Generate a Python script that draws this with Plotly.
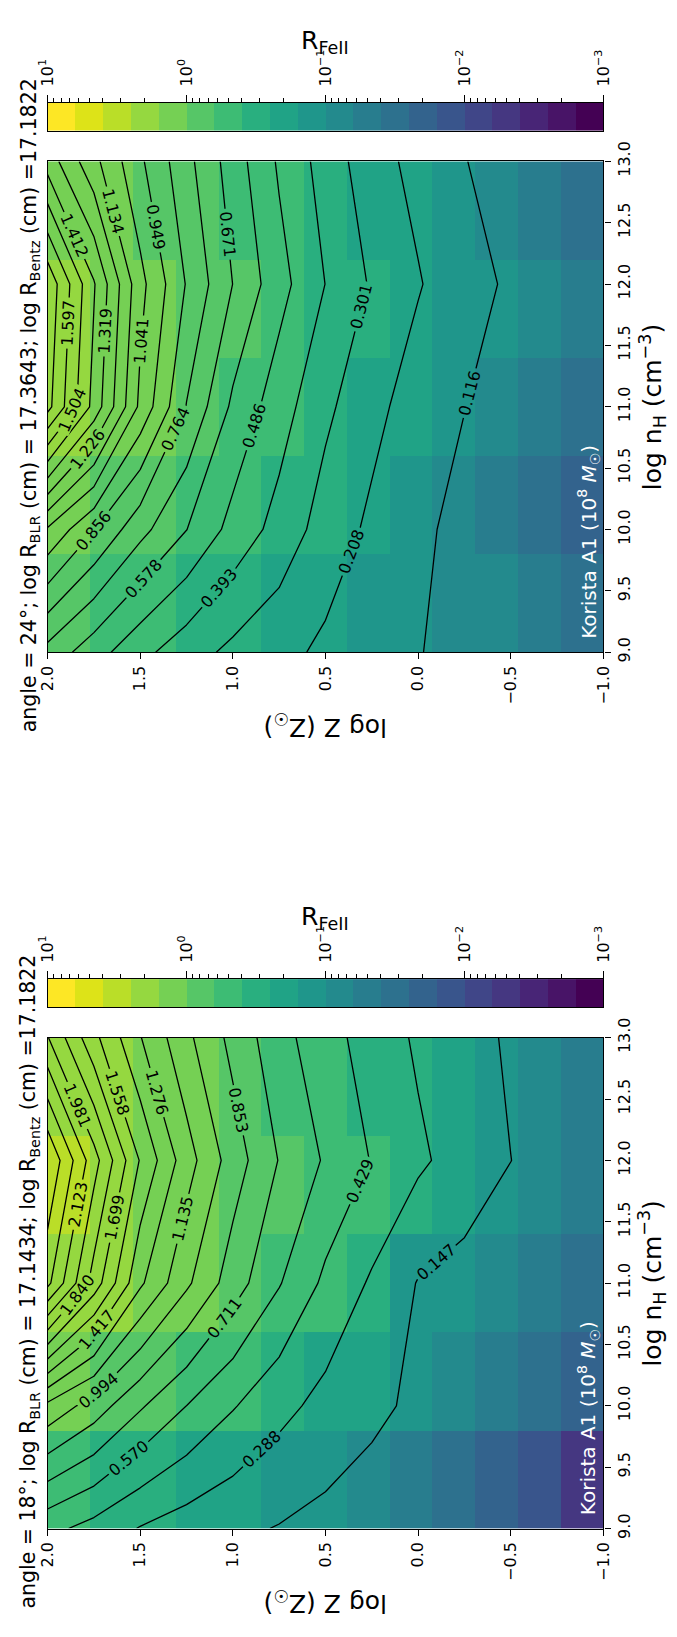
import numpy as np
import plotly.graph_objects as go

# ---------------------------------------------------------------- data
LOG_Z = [-1.0, -0.75, -0.5, -0.25, 0.0, 0.25, 0.5, 0.75, 1.0, 1.25, 1.5, 1.75, 2.0]
LOG_NH = [9.0, 10.0, 11.0, 12.0, 13.0]

# R_FeII on the grid: one row per log nH (9..13), one column per log Z (-1..2)
R_FE_24 = [
    [0.036, 0.050, 0.068, 0.090, 0.119, 0.150, 0.190, 0.235, 0.279, 0.340, 0.420, 0.525, 0.640],
    [0.023, 0.038, 0.062, 0.092, 0.132, 0.190, 0.260, 0.360, 0.455, 0.580, 0.700, 0.860, 1.030],
    [0.037, 0.055, 0.080, 0.117, 0.165, 0.235, 0.320, 0.435, 0.560, 0.760, 1.020, 1.380, 1.720],
    [0.046, 0.068, 0.102, 0.150, 0.215, 0.290, 0.392, 0.520, 0.670, 0.850, 1.070, 1.420, 1.760],
    [0.037, 0.055, 0.085, 0.118, 0.181, 0.245, 0.355, 0.473, 0.626, 0.792, 0.964, 1.160, 1.370],
]
R_FE_18 = [
    [0.0055, 0.012, 0.018, 0.030, 0.045, 0.070, 0.105, 0.140, 0.175, 0.220, 0.280, 0.380, 0.470],
    [0.018, 0.030, 0.045, 0.075, 0.118, 0.180, 0.245, 0.330, 0.440, 0.570, 0.730, 0.930, 1.100],
    [0.035, 0.050, 0.075, 0.100, 0.140, 0.270, 0.400, 0.580, 0.780, 1.020, 1.300, 1.780, 2.300],
    [0.060, 0.095, 0.148, 0.227, 0.313, 0.422, 0.554, 0.705, 0.926, 1.196, 1.547, 2.040, 2.540],
    [0.055, 0.085, 0.130, 0.195, 0.268, 0.367, 0.484, 0.620, 0.811, 1.026, 1.283, 1.596, 1.990],
]

# evenly spaced contour levels (first level, spacing, number of levels)
LEVELS_24 = (0.1156, 0.09257, 18)
LEVELS_18 = (0.14705, 0.14111, 17)

TITLE_24 = "angle = 24°; log R<sub>BLR</sub> (cm) = 17.3643; log R<sub>Bentz</sub> (cm) =17.1822"
TITLE_18 = "angle = 18°; log R<sub>BLR</sub> (cm) = 17.1434; log R<sub>Bentz</sub> (cm) =17.1822"
MODEL_LABEL = "Korista A1 (10<sup>8</sup> <i>M</i><sub>☉</sub>)"

Z_TICKS = [2.0, 1.5, 1.0, 0.5, 0.0, -0.5, -1.0]
NH_TICKS = [9.0, 9.5, 10.0, 10.5, 11.0, 11.5, 12.0, 12.5, 13.0]
CBAR_DECADES = [1, 0, -1, -2, -3]

# viridis, 20 discrete steps (low -> high)
VIRIDIS20 = ["#440154", "#481467", "#482576", "#453781", "#404688",
             "#39558c", "#33638d", "#2d718e", "#287d8e", "#238a8d",
             "#1f968b", "#20a386", "#29af7f", "#3dbc74", "#56c667",
             "#75d054", "#95d840", "#bade28", "#dde318", "#fde725"]

# ---------------------------------------------------------------- layout helpers
W, H = 677, 1637
FONT = "DejaVu Sans"


def fx(p):
    return p / W


def fy(p):
    return 1 - p / H


def discrete_scale(colors):
    n = len(colors)
    out = []
    for i, c in enumerate(colors):
        out.append([i / n, c])
        out.append([(i + 1) / n, c])
    return out


def fmt_tick(v):
    return f"{v:.1f}".replace("-", "\u2212")


def decade_label(k):
    return "10<sup>" + str(k).replace("-", "\u2212") + "</sup>"


SCALE = discrete_scale(VIRIDIS20)
z_edges = np.linspace(-1.0, 2.0, len(LOG_Z) + 1)
nh_edges = np.linspace(9.0, 13.0, len(LOG_NH) + 1)
bin_edges = np.linspace(-3, 1, len(VIRIDIS20) + 1)
bin_mid = 0.5 * (bin_edges[:-1] + bin_edges[1:])
minor_vals = [np.log10(m * 10.0 ** k) for k in range(-3, 1) for m in range(2, 10)]

x_dom = [fx(36.7), fx(610.3)]

# (vertical shift of the whole panel in px, data, levels, title)
panels = [
    (0.0, R_FE_24, LEVELS_24, TITLE_24),
    (892.7, R_FE_18, LEVELS_18, TITLE_18),
]

fig = go.Figure()
layout = dict(
    width=W, height=H, autosize=False,
    margin=dict(l=0, r=0, t=0, b=0),
    paper_bgcolor="white", plot_bgcolor="white",
    font=dict(family=FONT, color="black", size=16),
    showlegend=False,
)
annotations = []

axis_common = dict(
    showline=True, linecolor="black", linewidth=1.3, mirror=True,
    showgrid=False, zeroline=False, ticks="outside", ticklen=6,
    tickwidth=1.2, tickcolor="black", tickfont=dict(family=FONT, size=16),
)

for i, (dy, data, levels, title) in enumerate(panels):
    kp, kc = 2 * i + 1, 2 * i + 2
    xp = "x" if kp == 1 else f"x{kp}"
    yp = "y" if kp == 1 else f"y{kp}"
    xc, yc = f"x{kc}", f"y{kc}"

    R = np.array(data)
    top, bottom = 144.0 + dy, 644.0 + dy

    # cells coloured by log R on a 20-step scale
    fig.add_trace(go.Heatmap(
        x=z_edges, y=nh_edges, z=np.log10(R), zmin=-3, zmax=1,
        colorscale=SCALE, showscale=False, hoverinfo="skip",
        xaxis=xp, yaxis=yp,
    ))
    # linear contours of R (straight segments between grid points)
    start, step, count = levels
    fig.add_trace(go.Contour(
        x=LOG_Z, y=LOG_NH, z=R,
        contours=dict(start=start, end=start + step * (count - 1) + 1e-6, size=step,
                      coloring="none", showlabels=True,
                      labelfont=dict(family=FONT, size=16, color="black"),
                      labelformat=".3f"),
        line=dict(color="black", width=1.3, smoothing=0),
        showscale=False, hoverinfo="skip",
        xaxis=xp, yaxis=yp,
    ))
    # colour bar drawn as a one-row heatmap
    fig.add_trace(go.Heatmap(
        x=bin_edges, y=[0, 1], z=[bin_mid], zmin=-3, zmax=1,
        colorscale=SCALE, showscale=False, hoverinfo="skip",
        xaxis=xc, yaxis=yc,
    ))

    layout["xaxis" + ("" if kp == 1 else str(kp))] = dict(
        axis_common, domain=x_dom, range=[2.0, -1.0], anchor=yp,
        tickmode="array", tickvals=Z_TICKS, ticktext=[fmt_tick(v) for v in Z_TICKS],
        tickangle=-90,
    )
    layout["yaxis" + ("" if kp == 1 else str(kp))] = dict(
        axis_common, domain=[fy(bottom), fy(top)], range=[9.0, 13.0], anchor=xp,
        side="right", tickmode="array", tickvals=NH_TICKS,
        ticktext=[fmt_tick(v) for v in NH_TICKS], tickangle=-90,
    )
    cb_top, cb_bot = 84.3 + dy, 112.7 + dy
    layout[f"xaxis{kc}"] = dict(
        axis_common, domain=x_dom, range=[1, -3], anchor=yc, side="top",
        tickmode="array", tickvals=CBAR_DECADES,
        ticktext=[decade_label(k) for k in CBAR_DECADES], tickangle=-90, ticklen=7,
        ticklabelstandoff=5,
        minor=dict(tickmode="array", tickvals=minor_vals, ticks="outside",
                   ticklen=4, tickwidth=1, tickcolor="black"),
    )
    layout[f"yaxis{kc}"] = dict(
        showline=True, linecolor="black", linewidth=1.3, mirror=True,
        showgrid=False, zeroline=False, ticks="", showticklabels=False,
        domain=[fy(cb_bot), fy(cb_top)], range=[0, 1], anchor=xc,
    )

    mid_y = 0.5 * (top + bottom)
    annotations += [
        dict(text="R<sub>FeII</sub>", x=fx(323.5), y=fy(22 + dy), xref="paper", yref="paper",
             showarrow=False, font=dict(family=FONT, size=25), xanchor="center", yanchor="middle"),
        dict(text=title, x=fx(18.0), y=fy(mid_y - 2), xref="paper", yref="paper", textangle=-90,
             showarrow=False, font=dict(family=FONT, size=20.5), xanchor="center", yanchor="middle"),
        dict(text="log n<sub>H</sub> (cm<sup>\u22123</sup>)", x=fx(661), y=fy(mid_y),
             xref="paper", yref="paper", textangle=-90, showarrow=False,
             font=dict(family=FONT, size=25), xanchor="center", yanchor="middle"),
        dict(text="log Z (Z<sub>☉</sub>)", x=fx(323.5), y=fy(719 + dy), xref="paper", yref="paper",
             textangle=180, showarrow=False, font=dict(family=FONT, size=25),
             xanchor="center", yanchor="middle"),
        dict(text=MODEL_LABEL, x=fx(595), y=fy(bottom - 12 - 100), xref="paper", yref="paper",
             textangle=-90, showarrow=False, font=dict(family=FONT, size=20, color="white"),
             xanchor="center", yanchor="middle"),
    ]

layout["annotations"] = annotations
fig.update_layout(**layout)
fig.write_html("out.html")
